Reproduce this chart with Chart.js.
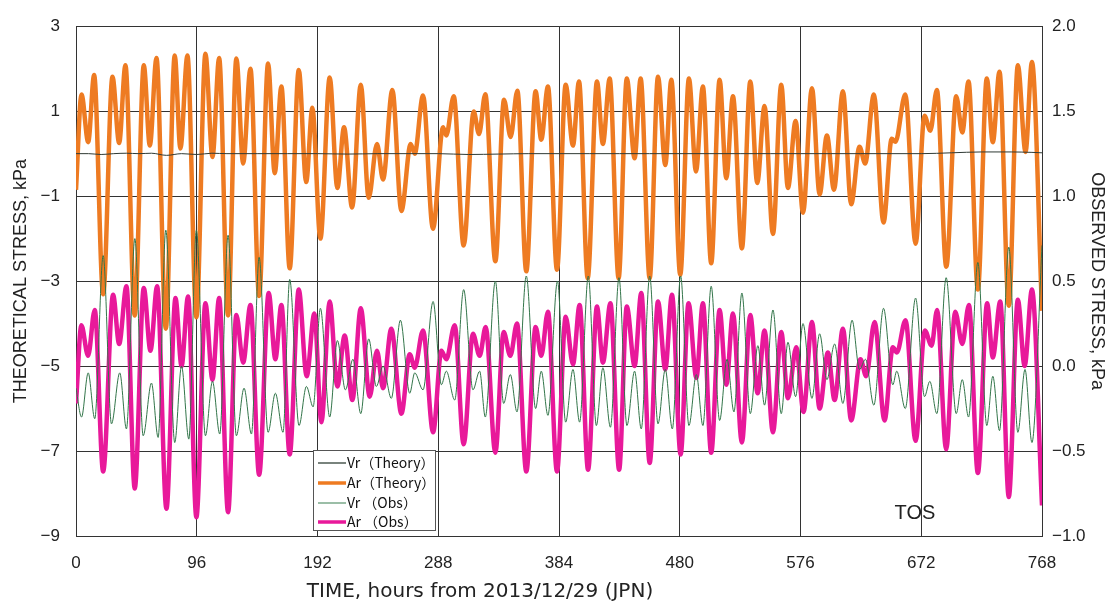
<!DOCTYPE html>
<html>
<head>
<meta charset="utf-8">
<title>TOS stress</title>
<script src="https://cdn.jsdelivr.net/npm/chart.js@4.4.1/dist/chart.umd.min.js"></script>
<style>
  html, body { margin: 0; padding: 0; background: #fff; }
  #wrap { width: 1110px; height: 611px; }
</style>
</head>
<body>
<div id="wrap"><canvas id="stress" width="1110" height="611"></canvas></div>
<script>
// axis ticks
const hourTicks = [0, 96, 192, 288, 384, 480, 576, 672, 768];
const theoryTicks = [-9, -7, -5, -3, -1, 1, 3];
const obsTicks = [-1.0, -0.5, 0.0, 0.5, 1.0, 1.5, 2.0];

// Vr (Theory), kPa, left axis
const vrTheoryHours = [0, 10, 20, 30, 40, 50, 60, 72, 84, 96, 108, 120, 144, 168, 192, 216, 240, 264, 288, 312, 336, 360, 384, 408, 432, 456, 480, 504, 528, 552, 576, 600, 624, 648, 672, 696, 720, 744, 760, 768];
const vrTheoryKPa = [0.0, 0.0, -0.02, 0.0, 0.01, 0.0, 0.01, -0.04, 0.0, -0.02, 0.01, 0.0, 0.0, 0.0, 0.0, -0.01, 0.0, 0.0, 0.0, -0.02, -0.01, 0.0, 0.0, 0.0, 0.0, 0.0, 0.0, 0.0, 0.0, 0.0, 0.0, 0.0, 0.0, 0.0, 0.0, 0.02, 0.04, 0.04, 0.03, 0.02];

// Ar (Theory), kPa, left axis -- turning points of the tidal signal
const arTheoryHours = [0, 4.4, 9.7, 14.4, 21.6, 29.0, 34.3, 39.3, 46.7, 53.9, 58.7, 64.0, 71.4, 78.5, 83.0, 88.6, 95.7, 102.9, 108.5, 113.8, 120.9, 127.5, 132.9, 138.7, 145.6, 152.7, 158.0, 163.3, 169.9, 177.1, 183.0, 187.9, 194.3, 201.7, 207.8, 213.1, 219.5, 226.4, 232.7, 239.3, 244.1, 251.5, 258.7, 266.1, 269.3, 275.9, 283.8, 291.8, 294.4, 300.3, 308.2, 316.2, 320.4, 325.4, 333.4, 340.3, 345.5, 350.9, 358.0, 365.4, 369.9, 375.2, 382.4, 389.3, 395.1, 399.9, 406.8, 414.2, 418.9, 424.3, 431.4, 437.9, 444.1, 448.9, 456.1, 462.7, 468.5, 473.3, 480.4, 487.3, 492.9, 498.4, 505.0, 511.7, 517.0, 522.3, 529.4, 536.1, 541.6, 547.4, 554.1, 560.7, 566.0, 572.1, 578.0, 585.1, 591.2, 597.0, 602.6, 609.7, 616.3, 622.9, 627.4, 634.3, 642.0, 648.5, 651.5, 659.3, 667.5, 674.6, 679.2, 684.4, 691.9, 699.8, 704.6, 709.6, 717.0, 724.1, 728.9, 734.2, 741.6, 748.8, 754.9, 760.0, 768];
const arTheoryKPa = [-0.85, 1.39, 0.27, 1.85, -3.31, 1.81, 0.25, 2.08, -3.81, 2.08, 0.19, 2.25, -4.12, 2.31, 0.12, 2.31, -3.85, 2.35, -0.08, 2.25, -3.81, 2.24, -0.23, 2.00, -3.35, 2.12, -0.46, 1.58, -2.70, 1.97, -0.67, 1.08, -2.00, 1.79, -0.81, 0.62, -1.27, 1.62, -1.04, 0.23, -0.61, 1.50, -1.35, 0.23, 0.00, 1.37, -1.77, 0.62, 0.43, 1.35, -2.16, 0.99, 0.46, 1.40, -2.53, 1.27, 0.39, 1.48, -2.77, 1.47, 0.33, 1.58, -2.73, 1.62, 0.19, 1.70, -2.93, 1.70, 0.23, 1.77, -2.93, 1.77, -0.11, 1.77, -2.93, 1.81, -0.27, 1.74, -2.85, 1.77, -0.42, 1.58, -2.58, 1.74, -0.58, 1.35, -2.23, 1.70, -0.69, 1.12, -1.89, 1.62, -0.81, 0.77, -1.39, 1.54, -0.96, 0.43, -0.85, 1.47, -1.19, 0.16, -0.23, 1.39, -1.62, 0.35, 0.28, 1.39, -2.12, 0.89, 0.54, 1.50, -2.66, 1.35, 0.50, 1.70, -3.20, 1.77, 0.27, 1.93, -3.58, 2.08, 0.04, 2.16, -3.70];

// Vr (Obs), kPa, right axis
const vrObsHours = [0, 4.4, 9.7, 14.9, 21.6, 28.2, 34.8, 40.1, 46.8, 53.4, 60.0, 65.3, 71.4, 78.5, 83.9, 89.7, 95.7, 102.9, 108.5, 114.3, 120.9, 127.5, 133.6, 139.5, 145.6, 152.7, 158.5, 164.6, 169.9, 177.3, 183.2, 188.5, 194.3, 201.7, 207.8, 214.2, 220.2, 226.4, 232.7, 238.8, 244.1, 250.7, 257.9, 265.3, 269.3, 275.9, 283.9, 290.5, 294.4, 301.1, 308.2, 315.6, 320.9, 325.4, 333.4, 340.0, 345.3, 350.6, 358.0, 365.4, 369.9, 375.2, 382.8, 389.3, 395.1, 400.4, 407.3, 413.7, 418.9, 424.9, 431.7, 438.0, 444.1, 449.4, 456.1, 462.7, 468.5, 474.1, 480.7, 487.3, 493.2, 498.4, 505.0, 511.7, 517.6, 523.1, 529.4, 536.1, 542.1, 547.4, 554.1, 560.7, 566.0, 572.1, 578.0, 585.1, 591.2, 597.0, 603.1, 609.7, 617.0, 622.9, 627.7, 634.3, 642.0, 649.4, 652.5, 659.3, 667.5, 674.6, 678.8, 684.4, 691.8, 699.8, 704.6, 709.6, 717.0, 724.1, 728.9, 734.2, 741.6, 748.8, 754.5, 760.0, 768];
const vrObsKPa = [-0.13, -0.30, -0.04, -0.31, 0.65, -0.34, -0.04, -0.37, 0.75, -0.41, -0.10, -0.42, 0.80, -0.45, 0.00, -0.43, 0.80, -0.41, -0.09, -0.40, 0.77, -0.41, -0.13, -0.40, 0.64, -0.39, -0.16, -0.39, 0.51, -0.35, -0.12, -0.24, 0.34, -0.30, 0.15, -0.14, 0.04, -0.28, 0.16, -0.12, 0.00, -0.19, 0.27, -0.16, -0.04, -0.14, 0.38, -0.11, -0.03, -0.20, 0.45, -0.14, -0.03, -0.30, 0.50, -0.22, -0.05, -0.27, 0.53, -0.25, -0.03, -0.29, 0.50, -0.33, -0.02, -0.33, 0.53, -0.35, -0.01, -0.36, 0.52, -0.35, -0.03, -0.37, 0.53, -0.34, -0.02, -0.37, 0.53, -0.35, -0.05, -0.35, 0.47, -0.32, 0.04, -0.27, 0.43, -0.28, 0.12, -0.23, 0.33, -0.28, 0.14, -0.18, 0.25, -0.19, 0.19, -0.08, 0.13, -0.22, 0.27, -0.02, 0.04, -0.23, 0.34, -0.11, -0.03, -0.25, 0.40, -0.18, -0.09, -0.28, 0.52, -0.28, -0.08, -0.30, 0.61, -0.35, -0.06, -0.38, 0.70, -0.39, -0.02, -0.45, 0.71];

// Ar (Obs), kPa, right axis
const arObsHours = [0, 4.3, 9.6, 14.9, 21.6, 29.5, 34.3, 40.1, 46.7, 53.9, 59.2, 64.5, 71.9, 79.1, 83.9, 89.1, 95.7, 102.9, 108.5, 113.8, 120.9, 127.5, 132.9, 138.7, 145.6, 153.2, 158.5, 163.3, 169.9, 177.1, 183.4, 189.5, 195.1, 201.7, 207.8, 213.6, 219.7, 226.4, 233.5, 239.3, 244.1, 250.7, 258.7, 265.3, 269.3, 275.9, 283.9, 290.5, 294.4, 301.1, 308.2, 315.6, 320.9, 325.7, 333.4, 340.0, 345.3, 350.6, 358.0, 365.4, 369.9, 375.2, 382.4, 389.3, 395.1, 400.4, 407.1, 414.2, 418.9, 424.9, 431.8, 437.9, 444.1, 449.4, 456.1, 462.7, 468.5, 473.8, 480.7, 487.0, 493.2, 498.4, 505.0, 511.7, 517.0, 522.3, 529.4, 536.1, 541.9, 547.4, 554.1, 560.7, 566.0, 572.6, 578.4, 585.1, 591.2, 597.8, 603.1, 609.7, 616.3, 623.7, 628.2, 634.9, 642.8, 649.4, 652.6, 659.5, 667.5, 674.9, 680.2, 684.6, 691.8, 699.0, 704.6, 709.9, 717.0, 724.4, 728.9, 734.8, 741.6, 748.8, 754.2, 760.0, 768];
const arObsKPa = [-0.22, 0.24, 0.06, 0.33, -0.62, 0.42, 0.13, 0.47, -0.72, 0.46, 0.09, 0.47, -0.84, 0.40, 0.00, 0.41, -0.89, 0.37, -0.08, 0.40, -0.86, 0.30, 0.02, 0.36, -0.64, 0.43, 0.04, 0.36, -0.52, 0.45, -0.06, 0.31, -0.33, 0.38, -0.12, 0.18, -0.20, 0.34, -0.18, 0.09, -0.13, 0.22, -0.28, 0.07, -0.01, 0.21, -0.39, 0.09, 0.04, 0.24, -0.46, 0.19, 0.06, 0.23, -0.51, 0.20, 0.06, 0.25, -0.62, 0.23, 0.06, 0.32, -0.62, 0.29, 0.01, 0.36, -0.61, 0.35, 0.02, 0.37, -0.61, 0.35, 0.00, 0.43, -0.57, 0.38, -0.02, 0.42, -0.52, 0.37, -0.07, 0.37, -0.51, 0.33, -0.11, 0.31, -0.45, 0.30, -0.16, 0.21, -0.39, 0.20, -0.19, 0.11, -0.27, 0.26, -0.25, 0.08, -0.20, 0.22, -0.32, 0.04, -0.06, 0.26, -0.32, 0.11, 0.08, 0.27, -0.44, 0.21, 0.12, 0.33, -0.49, 0.32, 0.13, 0.36, -0.63, 0.37, 0.05, 0.38, -0.77, 0.39, 0.00, 0.45, -0.82];

const pts = (hours, vals) => hours.map((h, i) => ({ x: h, y: vals[i] }));
const minus = s => String(s).replace('-', '\u2212');

const tickFont = { family: '"Liberation Sans", Arial, sans-serif', size: 17 };
const titleFont = { family: '"Liberation Sans", Arial, sans-serif', size: 18 };
const gridColor = '#333';

const line = (label, hours, vals, axis, color, width, order) => ({
  label,
  data: pts(hours, vals),
  yAxisID: axis,
  borderColor: color,
  borderWidth: width,
  pointRadius: 0,
  cubicInterpolationMode: 'monotone',
  fill: false,
  order,
});

// legend box, bottom title and station name
const overlay = {
  id: 'overlay',
  afterDraw(chart) {
    const ctx = chart.ctx;
    ctx.save();

    const bx = 313.5, by = 450.5, bw = 122, bh = 80;
    ctx.fillStyle = '#fff';
    ctx.fillRect(bx, by, bw, bh);
    ctx.strokeStyle = '#555';
    ctx.lineWidth = 1;
    ctx.strokeRect(bx, by, bw, bh);

    const rows = [463, 483, 503, 522];
    ctx.font = '14px "Noto Sans CJK JP", sans-serif';
    ctx.textBaseline = 'middle';
    ctx.textAlign = 'left';
    chart.data.datasets.forEach((ds, i) => {
      ctx.strokeStyle = ds.legendColor || ds.borderColor;
      ctx.lineWidth = ds.borderWidth > 2 ? 3.5 : 1.5;
      ctx.beginPath();
      ctx.moveTo(318, rows[i]);
      ctx.lineTo(346, rows[i]);
      ctx.stroke();
      ctx.fillStyle = '#111';
      ctx.fillText(ds.label, 347, rows[i]);
    });

    ctx.fillStyle = '#222';
    ctx.font = '20px "Liberation Sans", Arial, sans-serif';
    ctx.textAlign = 'center';
    ctx.fillText('TOS', 915, 513);

    ctx.font = '20px "DejaVu Sans", sans-serif';
    ctx.fillText('TIME, hours from 2013/12/29 (JPN)', 480, 592);
    ctx.restore();
  },
};

new Chart(document.getElementById('stress'), {
  type: 'line',
  data: {
    datasets: [
      Object.assign(line('Vr（Theory）', vrTheoryHours, vrTheoryKPa, 'y', '#2f3a34', 1, 0), { legendColor: '#4d5a52' }),
      line('Ar（Theory）', arTheoryHours, arTheoryKPa, 'y', '#ee7b22', 4.5, 2),
      Object.assign(line('Vr （Obs）', vrObsHours, vrObsKPa, 'y2', '#33754a', 1, 1), { legendColor: '#7aa88a' }),
      line('Ar （Obs）', arObsHours, arObsKPa, 'y2', '#e8199a', 4.5, 3),
    ],
  },
  options: {
    responsive: false,
    animation: false,
    devicePixelRatio: 1,
    events: [],
    layout: { padding: { top: 17, left: 0, right: 0, bottom: 0 } },
    plugins: {
      legend: { display: false },
      tooltip: { enabled: false },
    },
    scales: {
      x: {
        type: 'linear',
        min: 0, max: 768,
        afterBuildTicks: s => { s.ticks = hourTicks.map(v => ({ value: v })); },
        afterFit: s => { s.height = 75; },
        ticks: { font: tickFont, color: '#222', padding: 17, maxRotation: 0, autoSkip: false },
        grid: { color: gridColor, lineWidth: 1, drawTicks: false },
        border: { color: gridColor },
      },
      y: {
        position: 'left',
        min: -9, max: 3,
        afterBuildTicks: s => { s.ticks = theoryTicks.map(v => ({ value: v })); },
        afterFit: s => { s.width = 76; },
        ticks: { font: tickFont, color: '#222', padding: 16, callback: v => minus(v) },
        grid: { color: gridColor, lineWidth: 1, drawTicks: false },
        border: { color: gridColor },
        title: { display: true, text: 'THEORETICAL STRESS, kPa', font: titleFont, color: '#222', padding: { top: 10, bottom: 0 } },
      },
      y2: {
        position: 'right',
        min: -1, max: 2,
        afterBuildTicks: s => { s.ticks = obsTicks.map(v => ({ value: v })); },
        afterFit: s => { s.width = 68; },
        ticks: { font: tickFont, color: '#222', padding: 10, callback: v => minus(v.toFixed(1)) },
        grid: { display: false, drawTicks: false },
        border: { color: gridColor },
        title: { display: true, text: 'OBSERVED STRESS, kPa', font: titleFont, color: '#222', padding: { top: 2, bottom: 0 } },
      },
    },
  },
  plugins: [overlay],
});
</script>
</body>
</html>
